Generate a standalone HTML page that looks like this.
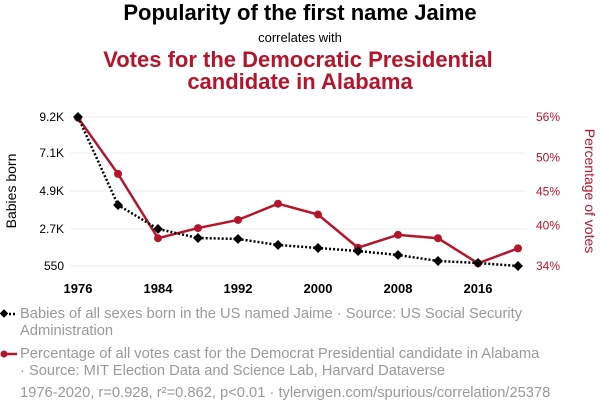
<!DOCTYPE html>
<html><head><meta charset="utf-8"><style>
body{margin:0;background:#fff;width:600px;height:414px;overflow:hidden;font-family:"Liberation Sans",sans-serif}
svg text{font-family:"Liberation Sans",sans-serif}
</style></head><body>
<svg id="c" width="600" height="414">
<text x="300" y="20" text-anchor="middle" font-size="22" font-weight="bold" fill="#000">Popularity of the first name Jaime</text>
<text x="300" y="42" text-anchor="middle" font-size="13" fill="#000">correlates with</text>
<text x="298" y="67" text-anchor="middle" font-size="22" font-weight="bold" fill="#b5152b">Votes for the Democratic Presidential</text>
<text x="300" y="89" text-anchor="middle" font-size="22" font-weight="bold" fill="#b5152b">candidate in Alabama</text>
<g id="grid"></g><g id="axes"></g><g id="marks"></g>
<text transform="translate(16,191) rotate(-90)" text-anchor="middle" font-size="14" fill="#000">Babies born</text>
<text transform="translate(585,191) rotate(90)" text-anchor="middle" font-size="14" fill="#b5152b">Percentage of votes</text>
<g>
<line x1="1" y1="314" x2="17" y2="314" stroke="#000" stroke-width="2.5" stroke-dasharray="2,2"/><rect x="1" y="310.5" width="6" height="6" transform="rotate(45 4 313.5)" fill="#000"/>
<text x="20" y="318" font-size="14.7" fill="#999">Babies of all sexes born in the US named Jaime · Source: US Social Security</text>
<text x="20" y="335" font-size="14.7" fill="#999">Administration</text></g>
<g>
<line x1="1" y1="354" x2="17" y2="354" stroke="#b5152b" stroke-width="2.5"/><circle cx="4" cy="354" r="3.5" fill="#b5152b"/>
<text x="20" y="358" font-size="14.7" fill="#999">Percentage of all votes cast for the Democrat Presidential candidate in Alabama</text>
<text x="20" y="375" font-size="14.7" fill="#999">· Source: MIT Election Data and Science Lab, Harvard Dataverse</text></g>
<text x="20" y="397" font-size="14.7" fill="#999">1976-2020, r=0.928, r²=0.862, p&lt;0.01 · tylervigen.com/spurious/correlation/25378</text>
</svg>
<script>
const years=[1976,1980,1984,1988,1992,1996,2000,2004,2008,2012,2016,2020];
const babies=[9200,4090,2700,2175,2120,1770,1595,1420,1190,840,725,550];
const votes=[55.9,47.6,38.1,39.6,40.8,43.2,41.6,36.7,38.6,38.1,34.4,36.6];
const xTicks=[1976,1984,1992,2000,2008,2016];
const leftTicks=[550,2700,4900,7100,9200];
const leftLabels=["550","2.7K","4.9K","7.1K","9.2K"];
const rightTicks=[34,40,45,50,56];
const NS="http://www.w3.org/2000/svg";
const x=y=>78+(y-1976)*10;
const yl=v=>266-(v-550)*149/8650;
const yr=v=>266-(v-34)*149/22;
function el(t,a,p){const e=document.createElementNS(NS,t);for(const k in a)e.setAttribute(k,a[k]);document.getElementById(p).appendChild(e);return e;}
leftTicks.forEach((v,i)=>{
 const g=el('line',{x1:70,x2:526,y1:yl(v),y2:yl(v),stroke:'#eee'},'grid');
 
 
 const t=el('text',{x:64,y:yl(v)+4,'text-anchor':'end','font-size':12,fill:'#000'},'axes');t.textContent=leftLabels[i];
 
 
});
rightTicks.forEach(v=>{
 const t=el('text',{x:536,y:yr(v)+4,'font-size':12,fill:'#b5152b'},'axes');t.textContent=v+'%';
 
 
});
xTicks.forEach(v=>{
 const t=el('text',{x:x(v),y:293,'text-anchor':'middle','font-size':13,'font-weight':'bold',fill:'#000'},'axes');t.textContent=v;
 
 
});
const rl=el('polyline',{points:years.map((y,i)=>x(y)+','+yr(votes[i])).join(' '),fill:'none',stroke:'#b5152b','stroke-width':2.5},'marks');


const bl=el('polyline',{points:years.map((y,i)=>x(y)+','+yl(babies[i])).join(' '),fill:'none',stroke:'#000','stroke-width':2.5,'stroke-dasharray':'2,2'},'marks');


years.forEach((y,i)=>{
 const c=el('circle',{cx:x(y),cy:yr(votes[i]),r:4,fill:'#b5152b'},'marks');
 
 
 const px=x(y),py=yl(babies[i]);
 const d=el('rect',{x:px-3.5,y:py-3.5,width:7,height:7,fill:'#000',transform:`rotate(45 ${px} ${py})`},'marks');
 
 
});
</script>
</body></html>
